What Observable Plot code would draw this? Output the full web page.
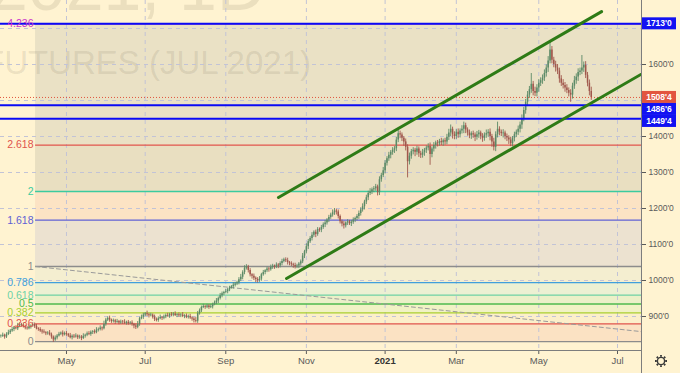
<!DOCTYPE html>
<html><head><meta charset="utf-8">
<script src="https://cdn.jsdelivr.net/npm/d3@7"></script>
<script src="https://cdn.jsdelivr.net/npm/@observablehq/plot@0.6"></script>
<style>
html,body{margin:0;padding:0;background:#fff3d1;}
#chart svg{display:block;}
</style></head><body><div id="chart"></div>
<script>
// ---- data ----
const firstBar = -35; // bar index of first candle (index 0 = first trading day of May 2020)
const closes = [
845,848,843,850,855,860,864,869,866,873,878,876,871,868,866,871,874,878,872,866,864,860,857,855,852,854,849,843,835,840,846,851,854,849,853,
850,846,841,845,843,846,841,843,839,845,848,852,850,856,858,855,862,864,868,866,878,890,
895,890,886,888,884,886,882,885,884,881,884,880,882,878,874,870,878,894,898,904,908,905,902,904,898,892,889,894,897,895,899,903,901,906,904,907,903,905,902,904,900,902,898,900,896,893,889,887,908,916,
925,928,926,929,925,927,934,938,943,950,958,963,967,969,974,979,983,987,990,994,1002,1009,1022,1034,1038,1028,1016,1012,1006,1003,1000,1004,1016,1022,1027,1032,1030,1036,1040,1037,1043,1040,1047,1053,1058,1055,1050,1047,1044,1042,1038,1040,1046,
1052,1068,1080,1094,1108,1117,1126,1134,1128,1142,1140,1147,1155,1160,1168,1175,1182,1188,1193,1190,1178,1163,1157,1152,1160,1163,1158,1162,1168,1172,1178,1186,1196,1205,1218,1230,1242,1246,1252,1255,1260,1244,1280,1292,1305,1326,1338,1348,1356,1362,1366,
1390,1408,1404,1395,1385,1370,1330,1345,1358,1362,1356,1365,1352,1348,1355,1362,1368,1372,1350,1365,1375,1382,1380,1386,1383,1388,1385,1398,1410,1420,1405,1400,1412,1405,1415,1420,1430,1418,1410,1402,1408,1404,1398,1405,1410,1400,1395,1404,1408,1412,1400,1385,1370,1405,1420,1412,1408,1410,1400,1396,1390,1380,1395,1405,1412,1420,1432,1450,1472,1495,1515,1530,1545,1525,1520,1535,1548,1555,1562,1575,1590,1610,1640,1612,1600,1590,1582,1560,1548,1542,1535,1528,1520,1515,1540,1555,1565,1578,1582,1590,1598,1570,1548,1525,1508.5
];
const wickUp = [
4,6,3,5,7,4,6,3,5,8, 4,3,6,5,4,7,3,5,4,6, 3,5,4,6,3,4,7,5,3,6, 4,5,3,6,4,5,3,7,4,5,
6,3,5,4,7,3,5,6,4,3, 5,7,4,6,3,9,5,4,6,3, 5,4,6,3,5,4,7,3,5,4, 6,3,5,8,4,6,5,3,7,4,
5,3,6,4,5,7,3,5,4,6, 3,5,4,6,3,5,4,7,3,5, 4,6,3,5,8,6,5,4,6,3, 5,4,6,3,5,7,4,6,5,3,
6,4,5,3,7,5,4,6,8,5, 7,6,4,5,3,6,4,5,7,4, 6,3,5,4,7,5,3,6,4,5, 6,4,5,7,3,5,4,6,5,4,
5,7,4,8,6,5,7,4,6,5, 4,6,5,7,4,6,5,8,7,5, 6,4,5,7,3,6,4,5,6,4, 5,7,6,8,5,7,6,9,5,6,
7,5,8,6,9,7,6,8,5,7, 6,8,12,7,6,5,8,7,9,6, 7,5,8,6,7,9,5,6,8,10, 6,8,5,7,6,9,5,7,8,10,
12,6,8,7,9,6,10,10,7,6, 8,5,7,6,9,7,5,8,6,10, 7,9,6,10,8,20,7,6,9,5, 7,6,8,5,7,6,9,8,10,9,
8,10,9,30,8,12,9,10,8,9, 10,9,12,25,10,8,9,10,8,9, 10,8,9,7,10,8,12,9,10,8, 35,9,10,8,9,12
];
const wickDn = [
5,3,6,4,3,5,4,6,3,5, 4,6,3,5,4,3,6,4,5,3, 5,4,6,3,5,4,3,6,7,4, 5,3,4,6,3,5,4,3,6,4,
3,5,4,6,3,5,4,3,5,6, 4,3,5,4,6,3,5,4,6,5, 4,6,3,5,4,6,3,5,4,3, 5,8,6,4,5,3,6,4,5,6,
3,5,6,4,5,3,6,4,5,3, 6,4,5,3,6,4,5,3,6,4, 5,4,6,7,5,6,4,5,3,6, 4,5,3,6,4,5,7,4,6,5,
4,6,5,3,7,5,4,6,5,7, 6,5,7,6,8,6,9,7,5,6, 4,6,5,7,4,5,6,4,7,5, 6,4,5,7,6,5,8,6,5,7,
6,5,7,6,8,5,7,6,9,5, 6,7,5,8,6,7,5,6,7,8, 7,6,8,9,6,7,5,8,6,7, 6,8,7,6,9,7,8,6,7,8,
7,9,8,7,6,9,8,7,10,8, 9,8,7,10,9,12,10,45,9,8, 9,12,8,10,9,8,10,9,8,30, 9,8,10,9,7,8,10,9,8,9,
10,12,9,8,10,9,8,12,10,9, 8,10,9,12,8,10,9,11,8,9, 10,12,15,10,12,9,10,8,12,9, 10,12,8,9,10,8,9,10,12,9,
10,12,9,10,12,9,10,12,9,10, 9,10,12,8,10,9,11,10,12,9, 10,12,9,10,20,11,9,10,12,9, 10,12,9,10,12,8
];
const monthTickIdx = [0, 42, 85, 128, 170, 208, 252, 294];
const monthTickLabels = ["May", "Jul", "Sep", "Nov", "2021", "Mar", "May", "Jul"];
const priceTicks = [900, 1000, 1100, 1200, 1300, 1400, 1500, 1600, 1700];
const fibRatios = [0, 0.236, 0.382, 0.5, 0.618, 0.786, 1, 1.618, 2, 2.618, 4.236];
const fibLabels = ["0", "0.236", "0.382", "0.5", "0.618", "0.786", "1", "1.618", "2", "2.618", "4.236"];
const fibLineColors = ["#8c8c8c","#e0544c","#a8cf2e","#4cba4c","#6cd2a6","#3f9fdc","#8c8c8c","#6060d4","#3ccb9f","#e0544c","#cc33cc"];
const fibFillColors = ["#fbe2c3","#fcefca","#f1f2c5","#ebf0c8","#ecf0d3","#f4eed0","#ece2d0","#fce3c4","#e9dfc1","#eae1c5"];
const fibLow = 830.5, fibHigh = 1038.9, fibStartIdx = -16.5;
const hLevels = [1713, 1486.75, 1449.5];
const hLabels = ["1713'0", "1486'6", "1449'4"];
const lastPrice = 1508.5, lastLabel = "1508'4";
const channelUpper = [[113.1, 1230.6], [285.5, 1747]];
const channelLower = [[117.4, 1005.6], [330, 1643]];
const trendDashed = [[-16.5, 1038.9], [306.8, 858]];
const xDomain = [-35.2, 306.8];
const yDomain = [805.6, 1777.8];

// ---- derived tables ----
const bars = closes.map((c, k) => {
  const o = k ? closes[k - 1] : c;
  return {i: firstBar + k, o, c, h: Math.max(o, c) + wickUp[k], l: Math.min(o, c) - wickDn[k]};
});
const fibLevels = fibRatios.map((r, k) => ({p: fibLow + r * (fibHigh - fibLow), label: fibLabels[k], color: fibLineColors[k]}));
const fibBands = fibFillColors.map((col, k) => ({a: fibLevels[k].p, b: fibLevels[k + 1].p, color: col}));
const upCol = "#5b8a67", dnCol = "#a0574c";
const candleCol = d => d.c >= d.o ? upCol : dnCol;

// price axis labels that sit under a price box are hidden (as in the trading app)
const boxPrices = hLevels.concat([lastPrice]);
const axisLabel = d => boxPrices.some(p => Math.abs(p - d) < 25) ? "" : `${d}'0`;

const W = 680, H = 373;
const plot = Plot.plot({
  width: W, height: H,
  marginLeft: 0, marginRight: 39, marginTop: 0, marginBottom: 23,
  style: {background: "#fff3d1", fontFamily: "'Liberation Sans', Arial, sans-serif", overflow: "hidden"},
  x: {domain: xDomain, label: null},
  y: {domain: yDomain, label: null},
  marks: [
    Plot.rect(fibBands, {x1: fibStartIdx, x2: xDomain[1], y1: "a", y2: "b", fill: "color"}),
    Plot.ruleX(monthTickIdx, {stroke: "#c2c3d6", strokeDasharray: "4,4", strokeWidth: 1}),
    Plot.ruleY(priceTicks, {stroke: "#c2c3d6", strokeDasharray: "4,4", strokeWidth: 1}),
    Plot.ruleY(fibLevels, {y: "p", x1: fibStartIdx, x2: xDomain[1], stroke: "color", strokeWidth: 1.3}),
    Plot.line(trendDashed, {stroke: "#9a9a9a", strokeDasharray: "4,3", strokeWidth: 1}),
    Plot.ruleX(bars, {x: "i", y1: "l", y2: "h", stroke: candleCol, strokeWidth: 0.9}),
    Plot.ruleX(bars, {x: "i", y1: "o", y2: d => Math.abs(d.c - d.o) < 1.5 ? d.o + 1.5 : d.c, stroke: candleCol, strokeWidth: 1.5}),
    Plot.ruleY([lastPrice], {stroke: "#e0533d", strokeDasharray: "1,2", strokeWidth: 1}),
    Plot.ruleY(hLevels, {stroke: "#0a0af5", strokeWidth: 2}),
    Plot.line(channelUpper, {stroke: "#2e7b16", strokeWidth: 3, clip: true}),
    Plot.line(channelLower, {stroke: "#2e7b16", strokeWidth: 3, clip: true}),
    Plot.text(fibLevels, {y: "p", text: "label", frameAnchor: "left", dx: 33, textAnchor: "end", fill: "color", fontSize: 10.5}),
    Plot.axisX(monthTickIdx, {anchor: "bottom", label: null, tickFormat: d => monthTickLabels[monthTickIdx.indexOf(d)], tickSize: 4, tickPadding: 3, fontSize: 9.5, color: "#5a5a5a"}),
    Plot.axisY(priceTicks, {anchor: "right", label: null, tickFormat: axisLabel, tickSize: 4, tickPadding: 3, fontSize: 8.5, color: "#5a5a5a"})
  ]
});
document.getElementById("chart").appendChild(plot);

const svg = d3.select(plot);
const xs = plot.scale("x"), ys = plot.scale("y");
const right = xs.apply(xDomain[1]), bottom = ys.apply(yDomain[0]);

// bold year label
svg.selectAll("text").filter(function(){ return d3.select(this).text() === "2021"; })
  .attr("font-weight", "bold").attr("fill", "#333");

// watermark, placed just above the fib fills
const rectG = svg.select("g[aria-label='rect']").node();
const wm = document.createElementNS("http://www.w3.org/2000/svg", "g");
rectG.parentNode.insertBefore(wm, rectG.nextSibling);
const wmSel = d3.select(wm).attr("fill", "rgba(70,60,40,0.11)").attr("font-family", "'Liberation Sans', Arial, sans-serif").attr("text-anchor", "end");
wmSel.append("text").attr("x", 266).attr("y", 10).attr("font-size", 68).text("ZSN2021, 1D");
wmSel.append("text").attr("x", 311).attr("y", 74).attr("font-size", 33).text("SOYBEAN FUTURES (JUL 2021)");

// pane borders
const border = svg.append("g").attr("stroke", "#7d7d7d").attr("stroke-width", 1);
border.append("line").attr("x1", 0).attr("x2", right).attr("y1", bottom + 0.5).attr("y2", bottom + 0.5);
border.append("line").attr("x1", right + 0.5).attr("x2", right + 0.5).attr("y1", 0).attr("y2", H);

// price label boxes (stacked so they do not overlap, as the trading app does)
const boxes = hLevels.map((p, k) => ({p, label: hLabels[k], fill: "#1212f2"}))
  .concat([{p: lastPrice, label: lastLabel, fill: "#e2553f"}])
  .map(b => ({...b, y: ys.apply(b.p)}))
  .sort((a, b) => a.y - b.y);
const boxH = 12;
for (let k = 1; k < boxes.length; k++) {
  if (boxes[k].y < boxes[k - 1].y + boxH) boxes[k].y = boxes[k - 1].y + boxH;
}
const bg = svg.append("g").attr("font-family", "'Liberation Sans', Arial, sans-serif");
boxes.forEach(b => {
  bg.append("rect").attr("x", right + 1).attr("y", b.y - boxH / 2).attr("width", 34).attr("height", boxH).attr("fill", b.fill);
  bg.append("text").attr("x", right + 18).attr("y", b.y).attr("dy", "0.35em").attr("text-anchor", "middle")
    .attr("fill", "#fff").attr("font-size", 8.5).attr("font-weight", "bold").text(b.label);
});

// settings gear (drawn as a shape)
const gx = right + 20, gy = bottom + 11;
const gear = svg.append("g").attr("stroke", "#3a3a3a").attr("fill", "none");
gear.append("circle").attr("cx", gx).attr("cy", gy).attr("r", 3.6).attr("stroke-width", 1.4);
d3.range(8).forEach(k => {
  const a = k * Math.PI / 4;
  gear.append("line").attr("x1", gx + 4.2 * Math.cos(a)).attr("y1", gy + 4.2 * Math.sin(a))
    .attr("x2", gx + 6 * Math.cos(a)).attr("y2", gy + 6 * Math.sin(a)).attr("stroke-width", 1.8);
});
</script></body></html>
